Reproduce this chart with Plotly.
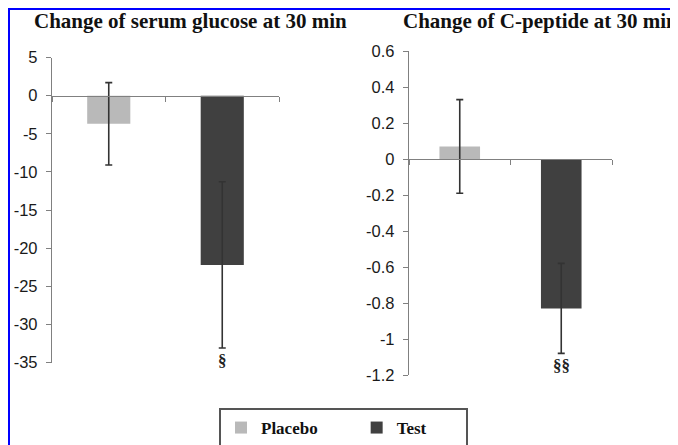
import plotly.graph_objects as go

W, H = 678, 445
OFF = 8  # page body margin offset

groups = ["Placebo", "Test"]
colors = {"Placebo": "#b9b9b9", "Test": "#404040"}
legend_pad = {"Placebo": 8, "Test": 8}

glucose_mean = [-3.7, -22.2]
glucose_err = [5.4, 10.9]
glucose_sig = ["", "§"]
glucose_range = [-35, 5]
glucose_ticks = [5, 0, -5, -10, -15, -20, -25, -30, -35]

cpep_mean = [0.07, -0.83]
cpep_err = [0.26, 0.25]
cpep_sig = ["", "§§"]
cpep_range = [-1.2, 0.6]
cpep_ticks = [0.6, 0.4, 0.2, 0, -0.2, -0.4, -0.6, -0.8, -1, -1.2]

titles = ["Change of serum glucose at 30 min", "Change of C-peptide at 30 min"]


def px_x(p):
    return (p - OFF) / W


def px_y(p):
    return 1 - (p - OFF) / H


# panel layout in pixels: (x0, x1, ytop, ybottom)
panels = [(52, 279, 57.5, 362.5), (409, 612, 51, 375)]

fig = go.Figure()

data = [(glucose_mean, glucose_err, glucose_sig, glucose_range, glucose_ticks),
        (cpep_mean, cpep_err, cpep_sig, cpep_range, cpep_ticks)]

serif = "Liberation Serif"
sans = "Liberation Sans"

for i, (means, errs, sigs, yr, ticks) in enumerate(data):
    xa = "x" if i == 0 else "x2"
    ya = "y" if i == 0 else "y2"
    for g, m, e in zip(groups, means, errs):
        fig.add_trace(go.Bar(
            x=[g], y=[m], name="<b>" + g + "</b>" + "&nbsp;" * legend_pad[g],
            width=0.38 if i == 0 else 0.4,
            marker=dict(color=colors[g], line=dict(width=0)),
            error_y=dict(type="data", array=[e], color="#333333", thickness=1.6, width=3.5),
            xaxis=xa, yaxis=ya, showlegend=(i == 0), legendgroup=g,
        ))
    for g, m, e, s in zip(groups, means, errs, sigs):
        if s:
            fig.add_annotation(x=g, y=m - e, xref=xa, yref=ya, text="<b>" + s + "</b>", showarrow=False,
                               yanchor="top", yshift=-1,
                               font=dict(family=serif, size=17, color="#222222"))

    x0, x1, yt, yb = panels[i]
    dom_y = [px_y(yb), px_y(yt)]
    zero_pos = dom_y[0] + (0 - yr[0]) / (yr[1] - yr[0]) * (dom_y[1] - dom_y[0])
    sfx = "" if i == 0 else "2"
    fig.layout["xaxis" + sfx] = dict(
        domain=[px_x(x0), px_x(x1)], type="category", categoryorder="array",
        categoryarray=groups, range=[-0.5, 1.5], anchor="free", position=zero_pos,
        showline=True, linecolor="#808080", linewidth=1.3, ticks="outside",
        tickson="boundaries", ticklen=5, tickcolor="#808080", showticklabels=False,
        showgrid=False, zeroline=False, fixedrange=True, automargin=False,
    )
    fig.layout["yaxis" + sfx] = dict(
        domain=dom_y, range=yr, tickvals=ticks, ticktext=[f"{t:g}" for t in ticks],
        anchor="x" + sfx, showline=True, linecolor="#808080", linewidth=1.3,
        ticks="outside", ticklen=5, tickcolor="#808080", showgrid=False, zeroline=False,
        tickfont=dict(family=sans, size=16.5, color="#1a1a1a"), fixedrange=True,
        automargin=False, ticklabelstandoff=5,
    )

fig.add_annotation(x=px_x(190), y=px_y(21), xref="paper", yref="paper", text="<b>" + titles[0] + "</b>",
                   showarrow=False, xanchor="center", yanchor="middle",
                   font=dict(family=serif, size=21, color="#111111"))
fig.add_annotation(x=px_x(540), y=px_y(21), xref="paper", yref="paper", text="<b>" + titles[1] + "</b>",
                   showarrow=False, xanchor="center", yanchor="middle",
                   font=dict(family=serif, size=21, color="#111111"))

# blue frame (top and left edges)
fig.add_shape(type="line", xref="paper", yref="paper", x0=px_x(7), x1=1.0, y0=px_y(8.5), y1=px_y(8.5),
              line=dict(color="#0000ff", width=3))
fig.add_shape(type="line", xref="paper", yref="paper", x0=px_x(8.5), x1=px_x(8.5), y0=px_y(7), y1=0,
              line=dict(color="#0000ff", width=3))

fig.update_layout(
    width=W, height=H, margin=dict(l=0, r=0, t=0, b=0, autoexpand=False),
    paper_bgcolor="white", plot_bgcolor="white", barmode="overlay",
    legend=dict(orientation="h", x=px_x(219), xanchor="left", y=px_y(408), yanchor="top",
                bgcolor="white", bordercolor="#555555", borderwidth=2,
                font=dict(family=serif, size=17, color="#111111"), traceorder="normal",
                itemwidth=30),
)

fig.write_html("out.html")
